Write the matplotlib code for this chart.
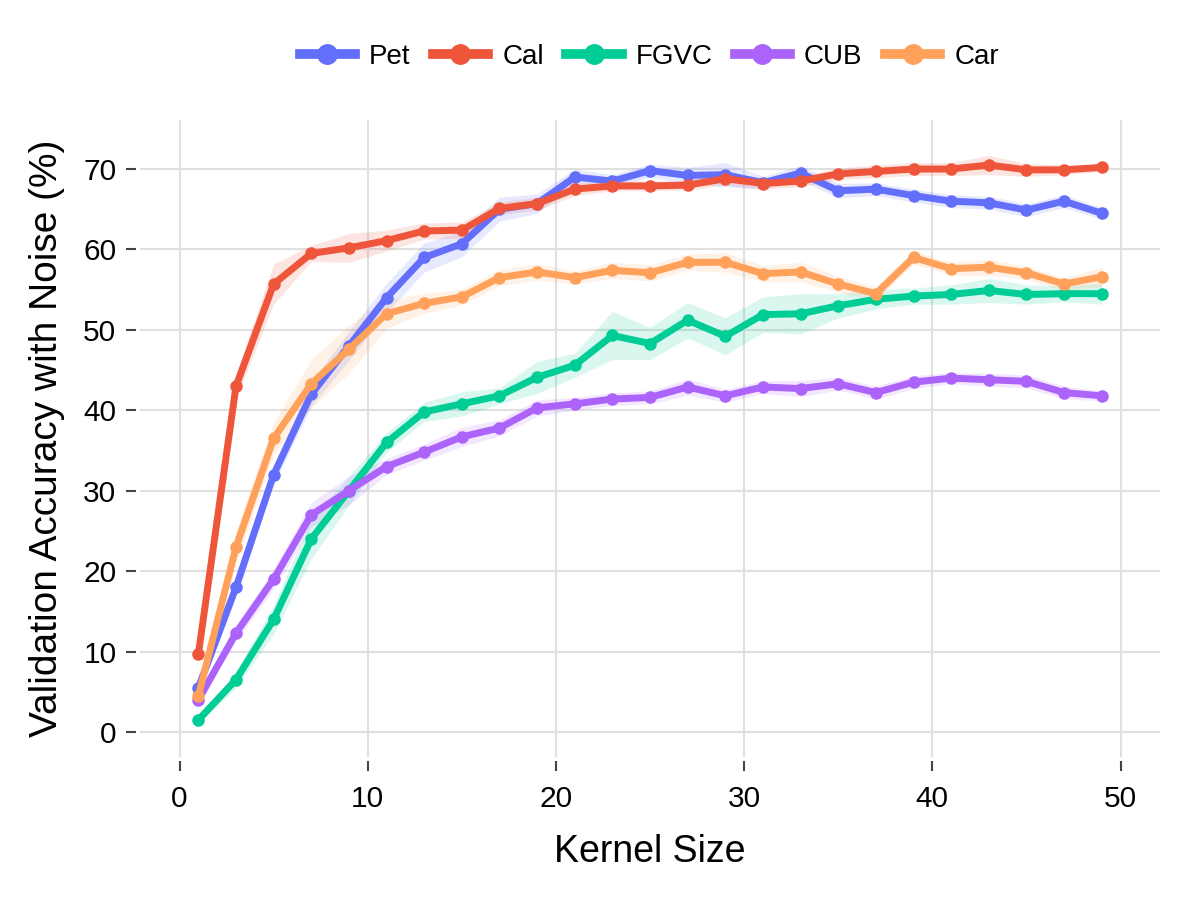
import numpy as np
import matplotlib
matplotlib.use("Agg")
import matplotlib.pyplot as plt
from matplotlib.lines import Line2D

plt.rcParams['font.family'] = ['Liberation Sans', 'DejaVu Sans']

kernel = list(range(1, 50, 2))

pet = [5.5, 18, 32, 42, 48, 54, 59, 60.7, 65, 65.7, 69, 68.5, 69.8, 69.2, 69.3,
       68.3, 69.5, 67.3, 67.5, 66.7, 66, 65.8, 64.9, 66, 64.5]
cal = [9.7, 43, 55.7, 59.5, 60.2, 61.1, 62.3, 62.4, 65.1, 65.7, 67.5, 67.9, 67.9, 68, 68.8,
       68.2, 68.5, 69.4, 69.7, 70, 70, 70.5, 69.9, 69.9, 70.2]
fgvc = [1.5, 6.5, 14, 24, 30, 36, 39.8, 40.8, 41.8, 44.1, 45.6, 49.3, 48.3, 51.2, 49.2,
        51.9, 52, 53, 53.8, 54.2, 54.4, 54.9, 54.4, 54.5, 54.5]
cub = [4, 12.3, 19, 27, 30, 33, 34.8, 36.7, 37.8, 40.3, 40.8, 41.4, 41.6, 42.9, 41.8,
       42.9, 42.7, 43.3, 42.2, 43.5, 44, 43.8, 43.6, 42.2, 41.8]
car = [4.5, 23, 36.5, 43.3, 47.6, 52, 53.3, 54.1, 56.5, 57.2, 56.5, 57.4, 57.1, 58.4, 58.4,
       57, 57.2, 55.7, 54.5, 59, 57.6, 57.8, 57.1, 55.7, 56.6]

# half widths of the shaded bands
pet_err = [0.8, 1.0, 1.2, 1.5, 1.8, 1.8, 1.8, 1.6, 1.5, 1.2, 1.0, 0.8, 0.8, 1.0, 1.5,
           0.8, 0.9, 0.9, 0.8, 0.8, 0.8, 0.8, 0.8, 0.8, 0.7]
cal_err = [0.5, 1.5, 2.5, 1.0, 1.8, 1.3, 1.0, 1.0, 0.8, 0.8, 0.8, 0.6, 0.6, 0.6, 0.8,
           0.7, 0.7, 0.7, 0.8, 0.8, 0.8, 1.2, 0.8, 0.6, 0.5]
fgvc_err = [0.5, 1.0, 1.8, 2.5, 1.8, 1.2, 1.2, 1.5, 1.0, 2.0, 1.5, 3.0, 2.0, 2.2, 2.3,
            2.2, 2.5, 1.5, 1.2, 1.0, 1.2, 1.5, 1.2, 1.0, 1.3]
cub_err = [0.5, 1.0, 1.2, 1.5, 1.8, 1.0, 1.0, 1.2, 1.0, 1.0, 0.8, 0.8, 0.8, 1.0, 0.8,
           0.8, 1.0, 0.8, 0.8, 0.8, 0.7, 0.8, 0.8, 0.8, 0.6]
car_err = [0.8, 2.0, 2.0, 3.0, 3.0, 1.8, 1.2, 1.0, 1.0, 1.0, 0.8, 1.0, 1.0, 1.0, 1.2,
           1.0, 1.2, 1.0, 0.8, 0.8, 0.8, 1.0, 0.8, 0.8, 1.2]

names = ['Pet', 'Cal', 'FGVC', 'CUB', 'Car']
series = [pet, cal, fgvc, cub, car]
errs = [pet_err, cal_err, fgvc_err, cub_err, car_err]
colors = ['#636EFA', '#EF553B', '#00CC96', '#AB63FA', '#FFA15A']

fig = plt.figure(figsize=(12, 9), dpi=100)
ax = fig.add_axes([0.1167, 0.159, 0.85, 0.7077])

x = np.array(kernel)
for name, y, e, c in zip(names, series, errs, colors):
    y = np.array(y)
    e = np.array(e)
    ax.fill_between(x, y - e, y + e, color=c, alpha=0.15, linewidth=0)
for name, y, c in zip(names, series, colors):
    ax.plot(x, y, color=c, linewidth=5, marker='o', markersize=8,
            solid_capstyle='round', solid_joinstyle='round')

ax.set_xlim(-2.1, 52.1)
ax.set_ylim(-3.1, 76.1)
ax.set_xticks([0, 10, 20, 30, 40, 50])
ax.set_yticks([0, 10, 20, 30, 40, 50, 60, 70])
ax.grid(True, color='#e0e0e0', linewidth=1.5)
ax.set_axisbelow(True)
for s in ax.spines.values():
    s.set_visible(False)
ax.spines['left'].set_position(('outward', 3))
ax.spines['bottom'].set_position(('outward', 3))
ax.tick_params(axis='both', labelsize=21.5, color='#444444', length=7, width=1.5)
ax.tick_params(axis='x', pad=10)
ax.tick_params(axis='y', pad=7)
ax.set_xlabel('Kernel Size', fontsize=27, labelpad=15)
ax.set_ylabel('Validation Accuracy with Noise (%)', fontsize=28, labelpad=13)

handles = [Line2D([], [], color=c, linewidth=7, marker='o', markersize=14) for c in colors]
fig.legend(handles, names, loc='center', bbox_to_anchor=(0.541, 0.937), ncol=5, frameon=False,
           fontsize=20, handlelength=2.0, columnspacing=0.8, handletextpad=0.5)

fig.savefig('out.png', dpi=100, facecolor='white')
